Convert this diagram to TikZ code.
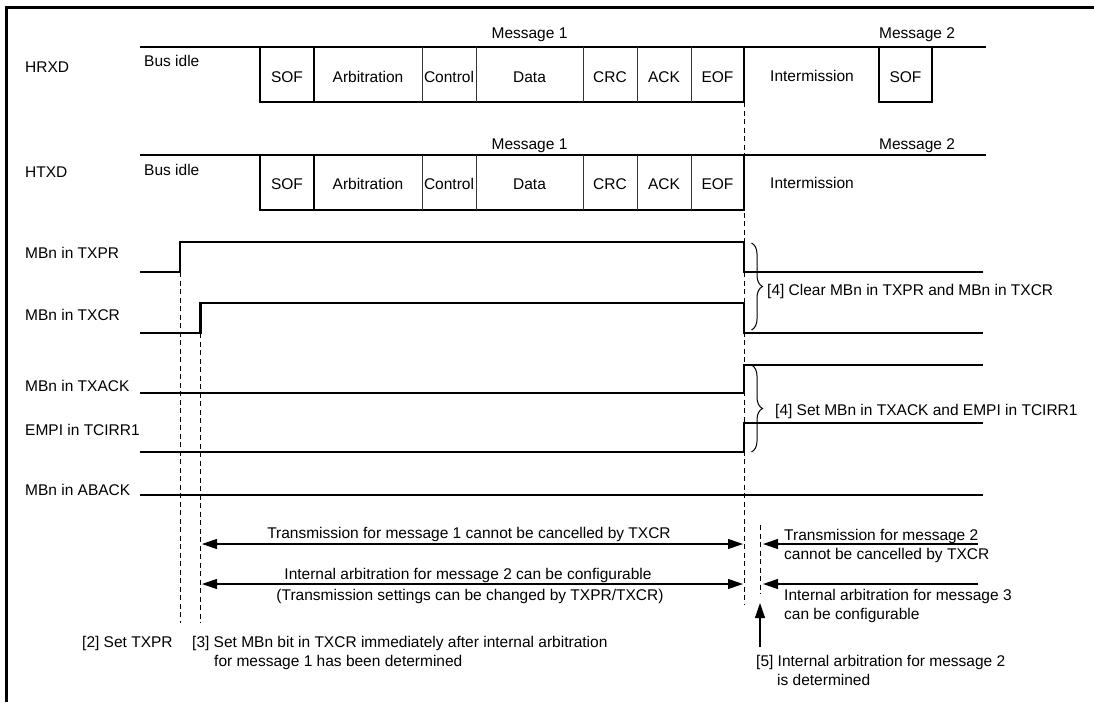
\documentclass[tikz,border=0pt]{standalone}
\usepackage{fontspec}
\setmainfont{Liberation Sans}
\usetikzlibrary{arrows.meta,decorations.pathreplacing}

\begin{document}
\begin{tikzpicture}[
  x=1pt, y=-1pt,
  every node/.style={font=\fontsize{15.5}{19}\selectfont, inner sep=0pt},
  sig/.style={anchor=base west},
  field/.style={anchor=base},
  wave/.style={line width=2.7pt},
  idle/.style={line width=1.3pt},
  divider/.style={line width=1pt, black!80},
  guide/.style={line width=0.9pt, dash pattern=on 5pt off 3.5pt},
  span/.style={line width=1.1pt},
  curly/.style={line width=1pt, decorate, decoration={brace, amplitude=11pt}},
  >={Triangle[length=15pt, width=10pt]}
]
\useasboundingbox (0,0) rectangle (1094,702);

% Frame
\draw[line width=3pt] (6.5,702) -- (6.5,7) -- (1094,7);

% HRXD
\node[sig] (hrxd) at (25,72.5) {HRXD};
\node[sig] (idler) at (144,66) {Bus idle};
\draw[idle] (140,47) -- (314,47) (744,47) -- (932,47);
\draw[wave] (260,47) -- (260,102) -- (744,102) -- (744,47) -- (314,47) -- (314,102);
\draw[wave] (879,47) -- (879,102) -- (932,102) -- (932,47) -- (986,47);
\foreach \x in {422,476,583,637,691} \draw[divider] (\x,47) -- (\x,102);
\foreach \x/\t in {287/SOF, 368/Arbitration, 449/Control, 529.5/Data, 610/CRC, 664/ACK, 717.5/EOF}
  \node[field] (r\t) at (\x,82) {\t};
\node[field] (msg1r) at (529.5,38) {Message 1};
\node[field] (msg2r) at (917,38) {Message 2};
\node[field] (interr) at (812,81) {Intermission};
\node[field] (sof2r) at (905.5,82) {SOF};

% HTXD
\node[sig] (htxd) at (25,177.5) {HTXD};
\node[sig] (idlet) at (144,175) {Bus idle};
\draw[idle] (140,155) -- (314,155) (744,155) -- (986,155);
\draw[wave] (260,155) -- (260,210) -- (744,210) -- (744,155) -- (314,155) -- (314,210);
\foreach \x in {422,476,583,637,691} \draw[divider] (\x,155) -- (\x,210);
\foreach \x/\t in {287/SOF, 368/Arbitration, 449/Control, 529.5/Data, 610/CRC, 664/ACK, 717.5/EOF}
  \node[field] (t\t) at (\x,189.5) {\t};
\node[field] (msg1t) at (529.5,149.5) {Message 1};
\node[field] (msg2t) at (917,149.5) {Message 2};
\node[field] (intert) at (812,188) {Intermission};

% Register bits
\node[sig] (txpr) at (25,258.5) {MBn in TXPR};
\node[sig] (txcr) at (25,320.5) {MBn in TXCR};
\node[sig] (txack) at (25,391.5) {MBn in TXACK};
\node[sig] (tcirr) at (25,435) {EMPI in TCIRR1};
\node[sig] (aback) at (25,495.5) {MBn in ABACK};
\draw[wave] (140,272) -- (180,272) -- (180,242) -- (744,242) -- (744,272) -- (983,272);
\draw[wave] (140,333) -- (200.7,333) -- (200.7,303) -- (744,303) -- (744,333) -- (983,333);
\draw[wave] (140,393) -- (744,393) -- (744,365) -- (983,365);
\draw[wave] (140,452) -- (744,452) -- (744,423) -- (983,423);
\draw[wave] (140,495) -- (983,495);

% Timing guides
\draw[guide] (180,272) -- (180,623);
\draw[guide] (200.7,333) -- (200.7,623);
\draw[guide] (744,102) -- (744,604);
\draw[guide] (760,525) -- (760,594);

% [4] braces
\draw[curly] (751.5,243) -- (751.5,330);
\draw[curly] (751.5,365) -- (751.5,452);
\node[sig] (clear4) at (767,295.5) {[4] Clear MBn in TXPR and MBn in TXCR};
\node[sig] (set4) at (775,415.5) {[4] Set MBn in TXACK and EMPI in TCIRR1};

% Periods
\draw[span, <->] (202,544) -- (743,544);
\draw[span, <->] (202,584) -- (743,584);
\draw[span, ->] (978,544) -- (763,544);
\draw[span, ->] (978,584) -- (763,584);
\draw[span, ->] (760,647) -- (760,603);
\node[field] (cancel1) at (469,538.5) {Transmission for message 1 cannot be cancelled by TXCR};
\node[field] (config2) at (468,579.5) {Internal arbitration for message 2 can be configurable};
\node[field] (change) at (470,600.5) {(Transmission settings can be changed by TXPR/TXCR)};
\node[sig] (cancel2) at (784,540.5) {Transmission for message 2};
\node[sig] (cancel2b) at (784,559.5) {cannot be cancelled by TXCR};
\node[sig] (config3) at (784,600.5) {Internal arbitration for message 3};
\node[sig] (config3b) at (784,619.5) {can be configurable};

% Notes
\node[sig] (note2) at (82,647.5) {[2] Set TXPR};
\node[sig] (note3) at (192,647.5) {[3] Set MBn bit in TXCR immediately after internal arbitration};
\node[sig] (note3b) at (214,666) {for message 1 has been determined};
\node[sig] (note5) at (756,666.5) {[5] Internal arbitration for message 2};
\node[sig] (note5b) at (777,685.5) {is determined};
\end{tikzpicture}
\end{document}
